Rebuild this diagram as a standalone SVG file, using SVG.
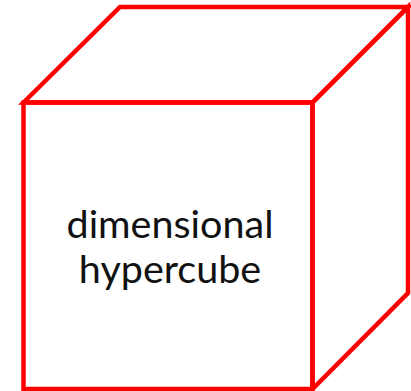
<svg xmlns="http://www.w3.org/2000/svg" width="411" height="391" viewBox="0 0 411 391">
<style>
.edge{fill:none;stroke:#ff0000;stroke-width:4.5;stroke-linejoin:miter}
.lbl{font-family:Lato,"Open Sans",sans-serif;font-size:39.5px;fill:#111;text-anchor:middle}
</style>
<rect width="411" height="391" fill="#fff"/>
<g id="cube">
<path class="edge" d="M23.5,102.5 L120,7 L408,7 L312.5,102.5 Z"/>
<path class="edge" d="M312.5,102.5 L408,7 L408,293 L312.5,389 Z"/>
<rect class="edge" x="23.5" y="102.5" width="289" height="286.5"/>
<text class="lbl" x="170" y="237.5">dimensional</text>
<text class="lbl" x="170" y="283">hypercube</text>
</g>
</svg>
